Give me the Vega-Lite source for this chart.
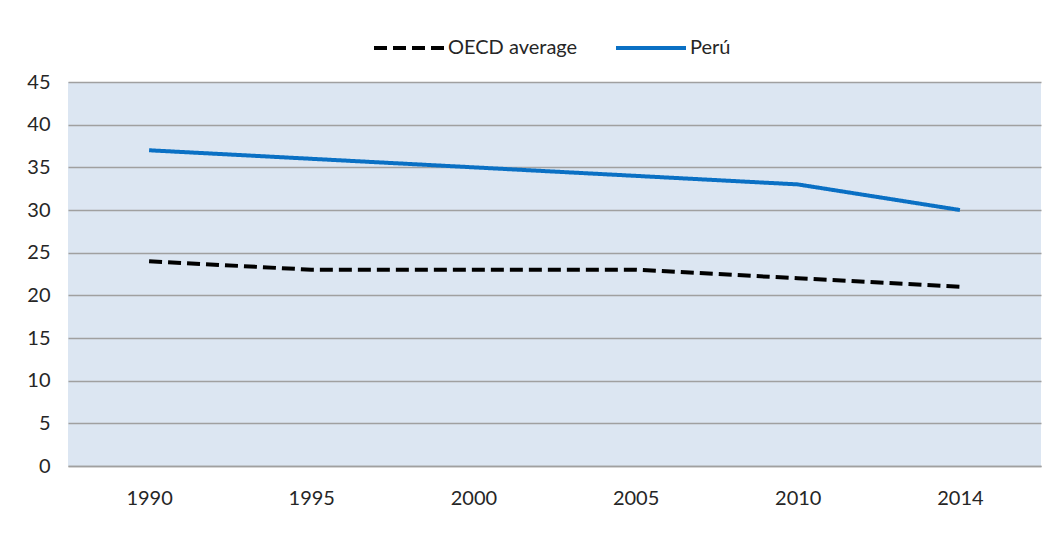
{
  "$schema": "https://vega.github.io/schema/vega-lite/v6.json",
  "width": 973,
  "height": 384,
  "autosize": {"type": "none"},
  "padding": {"left": 68, "top": 82, "right": 19, "bottom": 75},
  "background": "white",
  "config": {
    "font": "Lato",
    "view": {"fill": "#DCE6F2", "stroke": null},
    "axis": {"labelFont": "Lato", "labelFontSize": 20, "labelColor": "#262626", "ticks": false, "title": null}
  },
  "data": {
    "values": [
      {"year": "1990", "series": "OECD average", "value": 24},
      {"year": "1995", "series": "OECD average", "value": 23},
      {"year": "2000", "series": "OECD average", "value": 23},
      {"year": "2005", "series": "OECD average", "value": 23},
      {"year": "2010", "series": "OECD average", "value": 22},
      {"year": "2014", "series": "OECD average", "value": 21},
      {"year": "1990", "series": "Perú", "value": 37},
      {"year": "1995", "series": "Perú", "value": 36},
      {"year": "2000", "series": "Perú", "value": 35},
      {"year": "2005", "series": "Perú", "value": 34},
      {"year": "2010", "series": "Perú", "value": 33},
      {"year": "2014", "series": "Perú", "value": 30}
    ]
  },
  "mark": {"type": "line", "strokeWidth": 4, "strokeCap": "butt"},
  "encoding": {
    "x": {
      "field": "year", "type": "ordinal",
      "scale": {"type": "point", "padding": 0.5},
      "axis": {"labelAngle": 0, "labelPadding": 22, "domainColor": "#A0A0A0", "domainWidth": 1.5, "grid": false}
    },
    "y": {
      "field": "value", "type": "quantitative",
      "scale": {"domain": [0, 45], "nice": false},
      "axis": {"values": [0, 5, 10, 15, 20, 25, 30, 35, 40, 45], "domain": false, "grid": true, "gridColor": "#A0A0A0", "gridWidth": 1.5, "gridOpacity": 1, "labelPadding": 18}
    },
    "color": {
      "field": "series", "type": "nominal",
      "scale": {"domain": ["OECD average", "Perú"], "range": ["#000000", "#0A70C4"]},
      "legend": {
        "orient": "none", "legendX": 304, "legendY": -71, "direction": "horizontal", "title": null,
        "symbolType": "stroke", "symbolSize": 4900, "symbolStrokeWidth": 4,
        "labelFont": "Lato", "labelFontSize": 20, "labelColor": "#262626", "labelOffset": 2, "columnPadding": 30
      }
    },
    "strokeDash": {
      "field": "series", "type": "nominal",
      "scale": {"domain": ["OECD average", "Perú"], "range": [[13, 6], [1, 0]]},
      "legend": {
        "orient": "none", "legendX": 304, "legendY": -71, "direction": "horizontal", "title": null,
        "symbolType": "stroke", "symbolSize": 4900, "symbolStrokeWidth": 4,
        "labelFont": "Lato", "labelFontSize": 20, "labelColor": "#262626", "labelOffset": 2, "columnPadding": 30
      }
    }
  }
}
